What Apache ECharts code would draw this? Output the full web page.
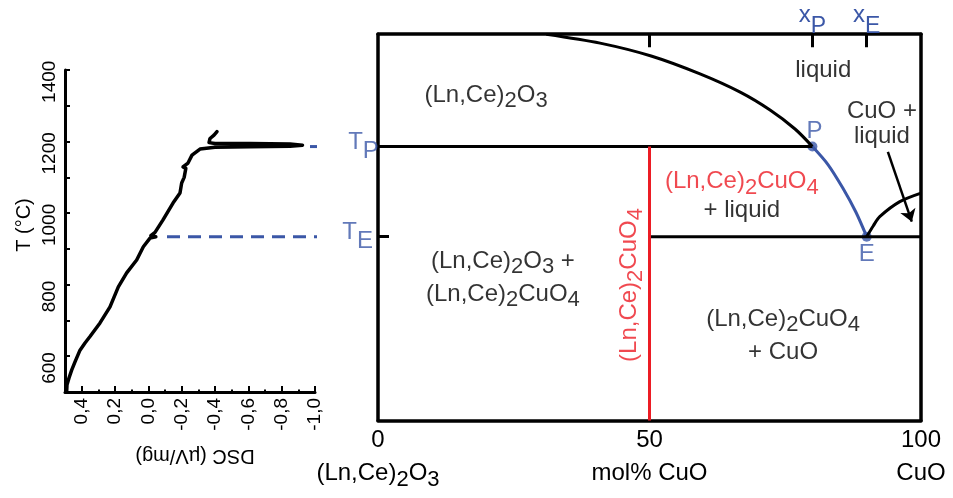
<!DOCTYPE html>
<html>
<head>
<meta charset="utf-8">
<script src="https://cdn.jsdelivr.net/npm/echarts@6/dist/echarts.min.js"></script>
<style>
  html, body { margin: 0; padding: 0; background: #fff; }
  #chart { width: 953px; height: 498px; }
</style>
</head>
<body>
<div id="chart"></div>
<script>
// ---- DSC heating trace: [signal (µV/mg), temperature (°C)] ----
const dscTrace = [
  [0.49, 600], [0.488, 620], [0.476, 639], [0.46, 661], [0.44, 684], [0.41, 717],
  [0.38, 737], [0.35, 755], [0.29, 793], [0.23, 838], [0.18, 894], [0.13, 933],
  [0.07, 969], [0.03, 1006], [-0.01, 1030], [-0.045, 1034], [-0.015, 1037],
  [-0.04, 1046], [-0.088, 1081], [-0.148, 1128], [-0.19, 1156], [-0.2, 1184],
  [-0.19, 1187], [-0.215, 1200], [-0.225, 1225], [-0.208, 1229], [-0.238, 1240],
  [-0.262, 1262], [-0.31, 1279], [-0.4, 1284], [-0.61, 1285.5], [-0.85, 1287],
  [-0.925, 1290], [-0.85, 1293.5], [-0.61, 1294.5], [-0.4, 1294.5], [-0.364, 1297],
  [-0.356, 1301], [-0.37, 1308.5], [-0.394, 1318], [-0.412, 1328]
];
const dscTicks = [-1.0, -0.8, -0.6, -0.4, -0.2, 0, 0.2, 0.4];
const dscMinorTicks = [-0.9, -0.7, -0.5, -0.3, -0.1, 0.1, 0.3];
const tempLabels = [600, 800, 1000, 1200, 1400];

// ---- invariant points ----
const T_P = 1286;   // peritectic temperature
const T_E = 1034;   // eutectic temperature
const X_P = 80;     // peritectic composition, mol% CuO
const X_E = 90;     // eutectic composition, mol% CuO

// ---- phase diagram boundaries: [mol% CuO, T (°C)] ----
const compTicks = [0, 50, 100];
const compNames = ['{n|(Ln,Ce)}{s|2}{n|O}{s|3}', '{n|mol% CuO}', '{n|CuO}'];
const liquidusOxide = [[31, 1600], [40.9, 1575], [50.3, 1539], [59.3, 1489], [66.7, 1438], [72.2, 1388], [76.8, 1335], [X_P, T_P]];
const liquidusCuprate = [[X_P, T_P], [82.9, 1235], [85.6, 1170], [88, 1103], [X_E, T_E]];
const liquidusCuO = [[X_E, T_E], [91.2, 1064], [92.4, 1090], [96.1, 1132], [100, 1156]];
const peritecticLine = [[0, T_P], [X_P, T_P]];
const eutecticLine = [[50, T_E], [100, T_E]];
const cuprateLine = [[50, 520], [50, T_P]];
const invariantPoints = [[X_P, T_P, 'P'], [X_E, T_E, 'E']];
const arrowCuOLiquid = [[93.9, 1271], [98.3, 1076]];

// ---- guides from the DSC events to the diagram ----
const peakGuide = [[-0.97, T_P], [-1.18, T_P]];
const onsetGuide = [[-0.112, T_E], [-1.14, T_E]];
const guideLabels = [[-1.19, T_P, 'P'], [-1.155, T_E, 'E']];

// ---- phase-field labels ----
const OXIDE = '{n|(Ln,Ce)}{s|2}{n|O}{s|3}';
const CUPRATE = '{n|(Ln,Ce)}{s|2}{n|CuO}{s|4}';
const fieldLabels = [
  { at: [19.9, 1417], text: OXIDE, color: 'ink' },
  { at: [82, 1500], text: '{n|liquid}', color: 'ink' },
  { at: [92.8, 1349], text: '{m|CuO +}\n{m|liquid}', color: 'ink' },
  { at: [67, 1175], text: CUPRATE, color: 'red' },
  { at: [67, 1108.6], text: '{n|+ liquid}', color: 'ink' },
  { at: [23, 907], text: OXIDE + '{n| +}\n' + CUPRATE, color: 'ink' },
  { at: [47.2, 899], text: CUPRATE, color: 'red', rotate: 90 },
  { at: [74.6, 758], text: CUPRATE + '\n{n|+ CuO}', color: 'ink' }
];

const INK = '#000000';
const BLUE = '#3b57a7';
const RED = '#ec1c24';
const FONT = '"Liberation Sans", Arial, Helvetica, sans-serif';
const NARROW = '"Liberation Sans Narrow", "Liberation Sans", Arial, sans-serif';

// chemical formulas: subscripts are dropped below the main line
function chemRich(color) {
  return {
    n: { fontFamily: FONT, fontSize: 24, lineHeight: 24, verticalAlign: 'top', color: color },
    s: { fontFamily: FONT, fontSize: 22, lineHeight: 33, padding: [7, 0, 4, 0], verticalAlign: 'top', color: color },
    m: { fontFamily: FONT, fontSize: 24, lineHeight: 25, verticalAlign: 'top', color: color }
  };
}

const fmtDsc = v => (Math.round(v * 10) / 10).toFixed(1).replace('.', ',');

const chart = echarts.init(document.getElementById('chart'), null, { renderer: 'canvas' });

const option = {
  animation: false,
  backgroundColor: '#ffffff',
  grid: [
    { left: 65, top: 70, width: 250, height: 322 },
    { left: 378, top: 34.2, width: 543, height: 386.4 }
  ],
  xAxis: [
    {
      gridIndex: 0, type: 'value', position: 'bottom', inverse: true, min: -1.0, max: 0.5,
      axisLine: { show: true, onZero: false, lineStyle: { color: INK, width: 3 } },
      axisTick: { show: true, inside: true, length: 6, customValues: dscTicks, lineStyle: { color: INK, width: 2 } },
      axisLabel: { show: true, customValues: dscTicks, rotate: 90, margin: 6, formatter: fmtDsc,
        fontFamily: FONT, fontSize: 19, color: INK },
      splitLine: { show: false },
      name: 'DSC (µV/mg)', nameLocation: 'middle', nameGap: 54, nameRotate: 180,
      nameTextStyle: { fontFamily: FONT, fontSize: 20, color: INK, padding: [0, 10, 0, 0] }
    },
    {
      gridIndex: 0, type: 'value', position: 'bottom', inverse: true, min: -1.0, max: 0.5,
      axisLine: { show: false },
      axisTick: { show: true, inside: true, length: 2.5, customValues: dscMinorTicks, lineStyle: { color: INK, width: 2 } },
      axisLabel: { show: false },
      splitLine: { show: false }
    },
    {
      gridIndex: 1, type: 'value', position: 'bottom', min: 0, max: 100, interval: 50,
      axisLine: { show: true, onZero: false, lineStyle: { color: INK, width: 3.5 } },
      axisTick: { show: false },
      axisLabel: {
        show: true, margin: 8,
        formatter: v => '{a|' + v + '}\n' + compNames[compTicks.indexOf(v)],
        rich: Object.assign(chemRich(INK), {
          a: { fontFamily: FONT, fontSize: 24, lineHeight: 33, verticalAlign: 'top', color: INK }
        })
      },
      splitLine: { show: false }
    },
    {
      gridIndex: 1, type: 'value', position: 'top', min: 0, max: 100,
      axisLine: { show: true, onZero: false, lineStyle: { color: INK, width: 3.5 } },
      axisTick: { show: true, inside: true, length: 13, customValues: [50, X_P, X_E], lineStyle: { color: INK, width: 3 } },
      axisLabel: {
        show: true, margin: -4, customValues: [X_P, X_E],
        formatter: v => '{x|x}{p|' + (v === X_P ? 'P' : 'E') + '}',
        rich: {
          x: { fontFamily: FONT, fontSize: 24, lineHeight: 24, verticalAlign: 'top', color: BLUE },
          p: { fontFamily: FONT, fontSize: 23, lineHeight: 35, padding: [12, 0, 0, 0], verticalAlign: 'top', color: BLUE }
        }
      },
      splitLine: { show: false }
    }
  ],
  yAxis: [
    {
      gridIndex: 0, type: 'value', position: 'left', min: 600, max: 1500, interval: 100,
      axisLine: { show: true, onZero: false, lineStyle: { color: INK, width: 3 } },
      axisTick: { show: true, inside: true, length: 5, lineStyle: { color: INK, width: 2 } },
      axisLabel: { show: true, customValues: tempLabels, rotate: 90, margin: 6, padding: [0, 0, 0, 48],
        formatter: v => String(v), fontFamily: NARROW, fontSize: 19, color: INK },
      splitLine: { show: false },
      name: 'T (°C)', nameLocation: 'middle', nameGap: 31, nameRotate: 90,
      nameTextStyle: { fontFamily: FONT, fontSize: 20, color: INK, padding: [0, 0, 0, 12] }
    },
    {
      gridIndex: 1, type: 'value', position: 'left', min: 520, max: 1600,
      axisLine: { show: true, onZero: false, lineStyle: { color: INK, width: 3.5 } },
      axisTick: { show: true, inside: true, length: 11, customValues: [T_E], lineStyle: { color: INK, width: 3 } },
      axisLabel: { show: false },
      splitLine: { show: false }
    },
    {
      gridIndex: 1, type: 'value', position: 'right', min: 520, max: 1600,
      axisLine: { show: true, onZero: false, lineStyle: { color: INK, width: 3.5 } },
      axisTick: { show: false },
      axisLabel: { show: false },
      splitLine: { show: false }
    }
  ],
  series: [
    // DSC panel
    {
      type: 'line', xAxisIndex: 0, yAxisIndex: 0, data: dscTrace, showSymbol: false, silent: true,
      lineStyle: { color: INK, width: 3.5, cap: 'round', join: 'round' }
    },
    {
      type: 'line', xAxisIndex: 0, yAxisIndex: 0, data: peakGuide, showSymbol: false, silent: true, clip: false,
      lineStyle: { color: BLUE, width: 3, type: [13, 8] }
    },
    {
      type: 'line', xAxisIndex: 0, yAxisIndex: 0, data: onsetGuide, showSymbol: false, silent: true, clip: false,
      lineStyle: { color: BLUE, width: 3, type: [13, 8] }
    },
    {
      type: 'scatter', xAxisIndex: 0, yAxisIndex: 0, silent: true, clip: false,
      symbolSize: 1, itemStyle: { color: 'rgba(0,0,0,0)' },
      data: guideLabels.map(g => ({ value: [g[0], g[1]], sub: g[2] })),
      label: {
        show: true, position: 'right', distance: 1,
        formatter: p => '{t|T}{s|' + p.data.sub + '}',
        rich: {
          t: { fontFamily: NARROW, fontSize: 24, lineHeight: 24, verticalAlign: 'top', color: BLUE },
          s: { fontFamily: NARROW, fontSize: 24, lineHeight: 33, padding: [9, 0, 0, 0], verticalAlign: 'top', color: BLUE }
        }
      }
    },
    // phase diagram
    {
      type: 'line', xAxisIndex: 2, yAxisIndex: 1, data: liquidusOxide, showSymbol: false, silent: true, smooth: 0.3,
      lineStyle: { color: INK, width: 3 }
    },
    {
      type: 'line', xAxisIndex: 2, yAxisIndex: 1, data: liquidusCuprate, showSymbol: false, silent: true, smooth: 0.3,
      lineStyle: { color: BLUE, width: 3 }
    },
    {
      type: 'line', xAxisIndex: 2, yAxisIndex: 1, data: liquidusCuO, showSymbol: false, silent: true, smooth: 0.3,
      lineStyle: { color: INK, width: 3 }
    },
    {
      type: 'line', xAxisIndex: 2, yAxisIndex: 1, data: peritecticLine, showSymbol: false, silent: true,
      lineStyle: { color: INK, width: 3 }
    },
    {
      type: 'line', xAxisIndex: 2, yAxisIndex: 1, data: eutecticLine, showSymbol: false, silent: true,
      lineStyle: { color: INK, width: 3 },
      markLine: {
        silent: true, animation: false, symbol: ['none', 'arrow'], symbolSize: 12,
        label: { show: false },
        lineStyle: { color: INK, width: 2.5, type: 'solid' },
        data: [[{ coord: arrowCuOLiquid[0] }, { coord: arrowCuOLiquid[1] }]]
      }
    },
    {
      type: 'line', xAxisIndex: 2, yAxisIndex: 1, data: cuprateLine, showSymbol: false, silent: true,
      lineStyle: { color: RED, width: 3 }
    },
    {
      type: 'scatter', xAxisIndex: 2, yAxisIndex: 1, silent: true, symbolSize: 10,
      itemStyle: { color: BLUE },
      data: invariantPoints.map(p => ({
        value: [p[0], p[1]],
        label: {
          show: true, position: p[2] === 'P' ? 'top' : 'bottom', distance: 2,
          offset: p[2] === 'P' ? [2, 4] : [0, -1], formatter: p[2]
        }
      })),
      label: { fontFamily: FONT, fontSize: 24, color: BLUE }
    },
    {
      type: 'scatter', xAxisIndex: 2, yAxisIndex: 1, silent: true, symbolSize: 1,
      itemStyle: { color: 'rgba(0,0,0,0)' },
      data: fieldLabels.map(f => ({
        value: f.at,
        label: {
          show: true, position: 'inside', formatter: f.text, rotate: f.rotate || 0,
          align: 'center', verticalAlign: 'middle',
          rich: chemRich(f.color === 'red' ? RED : INK)
        }
      }))
    }
  ]
};

chart.setOption(option);
</script>
</body>
</html>
